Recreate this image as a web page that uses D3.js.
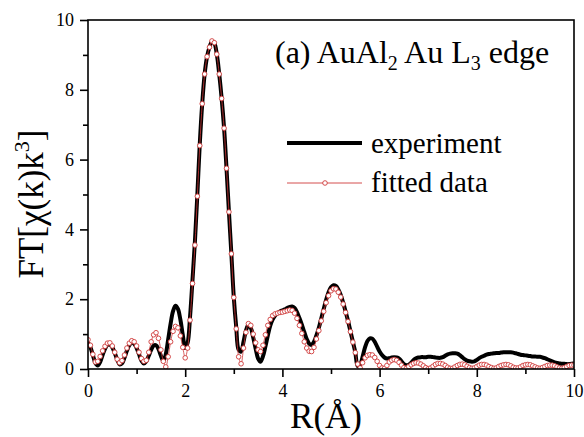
<!DOCTYPE html>
<html>
<head>
<meta charset="utf-8">
<script src="https://cdn.jsdelivr.net/npm/d3@7"></script>
<style>
  body { margin: 0; background: #fff; }
  svg { display: block; }
  text { font-family: "Liberation Serif", "Times New Roman", serif; fill: #000; }
</style>
</head>
<body>
<div id="chart"></div>
<script>
// R grid (Å), 0.05 step
const rValues = d3.range(201).map((i) => +(i * 0.05).toFixed(2));

// experiment |FT|
const experiment = [
  0.76, 0.62, 0.40, 0.18, 0.10, 0.20, 0.40, 0.58, 0.69, 0.70,
  0.62, 0.46, 0.27, 0.13, 0.16, 0.32, 0.52, 0.68, 0.76, 0.72,
  0.60, 0.42, 0.24, 0.16, 0.22, 0.38, 0.55, 0.67, 0.68, 0.57,
  0.38, 0.23, 0.42, 0.85, 1.30, 1.66, 1.81, 1.72, 1.42, 0.98,
  0.60, 0.75, 1.50, 2.55, 3.65, 5.00, 6.45, 7.60, 8.45, 8.95,
  9.22, 9.38, 9.33, 9.02, 8.45, 7.75, 6.90, 5.75, 4.50, 3.30,
  2.05, 1.20, 0.55, 0.50, 0.78, 1.10, 1.26, 1.18, 0.90, 0.58,
  0.30, 0.21, 0.36, 0.64, 0.96, 1.24, 1.42, 1.53, 1.60, 1.65,
  1.68, 1.71, 1.75, 1.78, 1.79, 1.75, 1.63, 1.46, 1.27, 1.06,
  0.86, 0.73, 0.69, 0.78, 0.96, 1.18, 1.45, 1.72, 1.98, 2.20,
  2.34, 2.40, 2.38, 2.28, 2.12, 1.90, 1.65, 1.38, 1.08, 0.78,
  0.48, 0.08, 0.12, 0.35, 0.62, 0.80, 0.88, 0.87, 0.78, 0.64,
  0.50, 0.40, 0.33, 0.30, 0.31, 0.33, 0.34, 0.33, 0.30, 0.22,
  0.14, 0.11, 0.12, 0.18, 0.26, 0.31, 0.33, 0.34, 0.34, 0.34,
  0.35, 0.35, 0.34, 0.33, 0.32, 0.32, 0.34, 0.38, 0.42, 0.44,
  0.45, 0.45, 0.44, 0.40, 0.34, 0.28, 0.24, 0.22, 0.21, 0.22,
  0.26, 0.31, 0.35, 0.38, 0.41, 0.43, 0.44, 0.45, 0.46, 0.46,
  0.47, 0.48, 0.48, 0.48, 0.48, 0.47, 0.45, 0.43, 0.41, 0.40,
  0.39, 0.38, 0.37, 0.36, 0.36, 0.35, 0.35, 0.33, 0.31, 0.28,
  0.25, 0.22, 0.19, 0.17, 0.16, 0.15, 0.15, 0.14, 0.14, 0.15,
  0.17,
];

// fitted |FT|
const fitted = [
  0.84, 0.68, 0.42, 0.20, 0.22, 0.36, 0.52, 0.65, 0.74, 0.75,
  0.66, 0.48, 0.28, 0.18, 0.24, 0.40, 0.60, 0.74, 0.81, 0.78,
  0.66, 0.48, 0.30, 0.22, 0.25, 0.48, 0.78, 0.98, 1.04, 0.88,
  0.55, 0.22, 0.06, 0.35, 0.78, 1.08, 1.22, 1.18, 0.95, 0.62,
  0.32, 0.60, 1.40, 2.45, 3.55, 4.95, 6.40, 7.60, 8.45, 8.95,
  9.22, 9.40, 9.35, 9.02, 8.45, 7.75, 6.90, 5.75, 4.50, 3.30,
  2.05, 1.15, 0.35, 0.15, 0.60, 1.05, 1.30, 1.25, 1.00, 0.75,
  0.55, 0.50, 0.68, 0.98, 1.25, 1.42, 1.53, 1.58, 1.60, 1.62,
  1.63, 1.65, 1.67, 1.69, 1.68, 1.60, 1.45, 1.25, 1.02, 0.78,
  0.60, 0.51, 0.50, 0.62, 0.86, 1.10, 1.38, 1.65, 1.90, 2.10,
  2.24, 2.30, 2.29, 2.20, 2.06, 1.86, 1.62, 1.36, 1.07, 0.77,
  0.47, 0.14, 0.03, 0.18, 0.32, 0.39, 0.41, 0.40, 0.33, 0.22,
  0.10, 0.03, 0.02, 0.10, 0.20, 0.25, 0.27, 0.25, 0.19, 0.11,
  0.04, 0.02, 0.07, 0.12, 0.16, 0.18, 0.17, 0.14, 0.09, 0.04,
  0.01, 0.03, 0.08, 0.13, 0.16, 0.16, 0.14, 0.10, 0.05, 0.02,
  0.02, 0.06, 0.10, 0.13, 0.14, 0.12, 0.08, 0.04, 0.02, 0.03,
  0.07, 0.11, 0.13, 0.13, 0.11, 0.07, 0.04, 0.02, 0.03, 0.07,
  0.10, 0.12, 0.13, 0.12, 0.09, 0.05, 0.03, 0.03, 0.06, 0.10,
  0.12, 0.13, 0.12, 0.09, 0.06, 0.03, 0.02, 0.04, 0.07, 0.10,
  0.11, 0.11, 0.09, 0.06, 0.03, 0.02, 0.04, 0.07, 0.10, 0.11,
  0.11,
];

const xMajor = [0, 2, 4, 6, 8, 10];
const xMinor = [1, 3, 5, 7, 9];
const yMajor = [0, 2, 4, 6, 8, 10];
const yMinor = [1, 3, 5, 7, 9];

const width = 584;
const height = 437;
const margin = { top: 20, right: 10, bottom: 68, left: 88 };
const fitColor = "#cf3a3a";
const serif = '"Liberation Serif", "Times New Roman", serif';

const svg = d3
  .select("#chart")
  .append("svg")
  .attr("width", width)
  .attr("height", height);

const x = d3
  .scaleLinear()
  .domain([0, 10])
  .range([margin.left, width - margin.right]);
const y = d3
  .scaleLinear()
  .domain([0, 10])
  .range([height - margin.bottom, margin.top]);

const expPts = rValues.map((r, i) => [r, experiment[i]]);
const fitPts = rValues.map((r, i) => [r, fitted[i]]);

const line = d3
  .line()
  .x((d) => x(d[0]))
  .y((d) => y(d[1]))
  .curve(d3.curveCatmullRom);

svg.append("clipPath").attr("id", "clip")
  .append("rect")
  .attr("x", margin.left)
  .attr("y", margin.top)
  .attr("width", width - margin.left - margin.right)
  .attr("height", height - margin.top - margin.bottom);

const inner = svg.append("g").attr("clip-path", "url(#clip)");

inner
  .append("path")
  .datum(expPts)
  .attr("fill", "none")
  .attr("stroke", "#000")
  .attr("stroke-width", 4)
  .attr("stroke-linejoin", "round")
  .attr("d", line);

inner
  .append("path")
  .datum(fitPts)
  .attr("fill", "none")
  .attr("stroke", fitColor)
  .attr("stroke-width", 0.8)
  .attr("d", line);

inner
  .append("g")
  .selectAll("circle")
  .data(fitPts)
  .join("circle")
  .attr("cx", (d) => x(d[0]))
  .attr("cy", (d) => y(d[1]))
  .attr("r", 2.3)
  .attr("fill", "#fff")
  .attr("stroke", fitColor)
  .attr("stroke-width", 0.9);

// axes: major ticks with labels, minor ticks without
svg
  .append("g")
  .attr("transform", `translate(0,${y(0)})`)
  .call(d3.axisBottom(x).tickValues(xMajor).tickSize(8).tickPadding(7).tickFormat(d3.format("d")));
svg
  .append("g")
  .attr("transform", `translate(0,${y(0)})`)
  .call(d3.axisBottom(x).tickValues(xMinor).tickSize(5).tickFormat(""));
svg
  .append("g")
  .attr("transform", `translate(${x(0)},0)`)
  .call(d3.axisLeft(y).tickValues(yMajor).tickSize(8).tickPadding(6).tickFormat(d3.format("d")));
svg
  .append("g")
  .attr("transform", `translate(${x(0)},0)`)
  .call(d3.axisLeft(y).tickValues(yMinor).tickSize(5).tickFormat(""));

svg.selectAll(".domain").remove();
svg.selectAll(".tick line").attr("stroke", "#000").attr("stroke-width", 1.6);
svg
  .selectAll(".tick text")
  .style("font-family", serif)
  .style("font-size", "18px")
  .attr("fill", "#000");

// frame
svg
  .append("rect")
  .attr("x", x(0))
  .attr("y", y(10))
  .attr("width", x(10) - x(0))
  .attr("height", y(0) - y(10))
  .attr("fill", "none")
  .attr("stroke", "#000")
  .attr("stroke-width", 1.6);

// axis titles
svg
  .append("text")
  .attr("x", 326)
  .attr("y", 428)
  .attr("text-anchor", "middle")
  .attr("font-size", 35)
  .text("R(Å)");

const yTitle = svg
  .append("text")
  .attr("transform", "translate(43,204) rotate(-90)")
  .attr("text-anchor", "middle")
  .attr("font-size", 35);
yTitle.append("tspan").text("FT[χ(k)k");
yTitle.append("tspan").attr("font-size", 22).attr("dy", -14).text("3");
yTitle.append("tspan").attr("dy", 14).text("]");

// panel title
const title = svg
  .append("text")
  .attr("x", 275)
  .attr("y", 63)
  .attr("font-size", 32);
title.append("tspan").text("(a) AuAl");
title.append("tspan").attr("font-size", 20).attr("dy", 7).text("2");
title.append("tspan").attr("dy", -7).text(" Au L");
title.append("tspan").attr("font-size", 20).attr("dy", 7).text("3");
title.append("tspan").attr("dy", -7).text(" edge");

// legend
const legend = svg.append("g");
legend
  .append("line")
  .attr("x1", 287)
  .attr("x2", 362)
  .attr("y1", 143)
  .attr("y2", 143)
  .attr("stroke", "#000")
  .attr("stroke-width", 4);
legend
  .append("text")
  .attr("x", 371)
  .attr("y", 153)
  .attr("font-size", 29)
  .text("experiment");
legend
  .append("line")
  .attr("x1", 287)
  .attr("x2", 362)
  .attr("y1", 183)
  .attr("y2", 183)
  .attr("stroke", fitColor)
  .attr("stroke-width", 0.9);
legend
  .append("circle")
  .attr("cx", 325)
  .attr("cy", 183)
  .attr("r", 2.3)
  .attr("fill", "#fff")
  .attr("stroke", fitColor)
  .attr("stroke-width", 0.9);
legend
  .append("text")
  .attr("x", 371)
  .attr("y", 192)
  .attr("font-size", 29)
  .text("fitted data");
</script>
</body>
</html>
